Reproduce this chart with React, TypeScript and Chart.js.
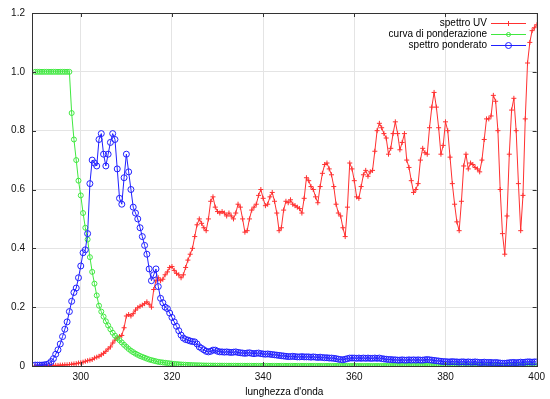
import React, { useEffect, useRef } from "react";
import { Chart, registerables } from "chart.js";

Chart.register(...registerables);

// ---- data ----
const WAVELENGTH_START = 290;
const WAVELENGTH_STEP = 0.5;

const SPETTRO_UV = [
  0, 0, 0, 0, 0.001, 0.001, 0.001, 0.001, 0.002, 0.002,
  0.002, 0.003, 0.003, 0.004, 0.004, 0.005, 0.006, 0.007, 0.008, 0.01,
  0.011, 0.013, 0.016, 0.018, 0.02, 0.022, 0.027, 0.03, 0.033, 0.038,
  0.043, 0.05, 0.058, 0.065, 0.078, 0.088, 0.095, 0.1, 0.104, 0.13,
  0.17, 0.175, 0.17, 0.178, 0.19, 0.198, 0.203, 0.207, 0.212, 0.218,
  0.21, 0.2, 0.26, 0.29, 0.3, 0.29, 0.295, 0.31, 0.32, 0.335,
  0.338, 0.325, 0.315, 0.31, 0.3, 0.31, 0.335, 0.36, 0.38, 0.4,
  0.44, 0.48, 0.5, 0.485, 0.47, 0.46, 0.5, 0.56, 0.575, 0.54,
  0.525, 0.52, 0.525, 0.52, 0.51, 0.52, 0.51, 0.5, 0.52, 0.55,
  0.54, 0.5, 0.455, 0.46, 0.5, 0.53, 0.54, 0.55, 0.58, 0.6,
  0.57, 0.545, 0.55, 0.575, 0.59, 0.56, 0.52, 0.46, 0.47, 0.53,
  0.56, 0.555, 0.565, 0.55, 0.545, 0.54, 0.535, 0.52, 0.57, 0.64,
  0.63, 0.61, 0.6, 0.575, 0.555, 0.61, 0.655, 0.685, 0.69, 0.67,
  0.65, 0.61, 0.55, 0.52, 0.51, 0.47, 0.44, 0.54, 0.69, 0.67,
  0.63, 0.575, 0.57, 0.61, 0.65, 0.665, 0.645, 0.66, 0.665, 0.73,
  0.8, 0.825, 0.81, 0.79, 0.775, 0.72, 0.74, 0.79, 0.83, 0.79,
  0.735, 0.76, 0.79, 0.7, 0.675, 0.63, 0.59, 0.6, 0.62, 0.7,
  0.74, 0.725, 0.72, 0.81, 0.88, 0.93, 0.88, 0.81, 0.72, 0.75,
  0.83, 0.8, 0.71, 0.62, 0.55, 0.49, 0.46, 0.56, 0.68, 0.72,
  0.67, 0.69, 0.685, 0.675, 0.67, 0.66, 0.7, 0.77, 0.84, 0.84,
  0.85, 0.92, 0.9, 0.8, 0.6, 0.45, 0.38, 0.51, 0.72, 0.87,
  0.91, 0.8, 0.62, 0.46, 0.58, 0.84, 1.03, 1.1, 1.14, 1.15,
  1.16,
];

const CURVA_PONDERAZIONE = [
  1, 1, 1, 1, 1, 1, 1, 1, 1, 1,
  1, 1, 1, 1, 1, 1, 0.86, 0.77, 0.7, 0.63,
  0.58, 0.52, 0.47, 0.43, 0.37, 0.32, 0.28, 0.24, 0.205, 0.185,
  0.168, 0.152, 0.138, 0.125, 0.113, 0.103, 0.095, 0.088, 0.08, 0.072,
  0.065, 0.058, 0.052, 0.047, 0.042, 0.038, 0.034, 0.031, 0.028, 0.025,
  0.022, 0.02, 0.018, 0.016, 0.014, 0.013, 0.012, 0.011, 0.01, 0.009,
  0.008, 0.0072, 0.0065, 0.0058, 0.0052, 0.0047, 0.0042, 0.0038, 0.0034, 0.0031,
  0.0028, 0.0025, 0.0023, 0.002, 0.0018, 0.0016, 0.0015, 0.0014, 0.0013, 0.0013,
  0.0012, 0.0012, 0.0011, 0.0011, 0.001, 0.001, 0.001, 0.0009, 0.0009, 0.0009,
  0.0008, 0.0008, 0.0008, 0.0008, 0.0007, 0.0007, 0.0007, 0.0007, 0.0006, 0.0006,
  0.0006, 0.0006, 0.0006, 0.0005, 0.0005, 0.0005, 0.0005, 0.0005, 0.0005, 0.0004,
  0.0004, 0.0004, 0.0004, 0.0004, 0.0004, 0.0004, 0.0003, 0.0003, 0.0003, 0.0003,
  0.0003, 0.0003, 0.0003, 0.0003, 0.0003, 0.0002, 0.0002, 0.0002, 0.0002, 0.0002,
  0.0002, 0.0002, 0.0002, 0.0002, 0.0002, 0.0002, 0.0002, 0.0002, 0.0001, 0.0001,
  0.0001, 0.0001, 0.0001, 0.0001, 0.0001, 0.0001, 0.0001, 0.0001, 0.0001, 0.0001,
  0.0001, 0.0001, 0.0001, 0.0001, 0.0001, 0.0001, 0.0001, 0.0001, 0.0001, 0.0001,
  0.0001, 0.0001, 0.0001, 0.0001, 0.0001, 0.0001, 0.0001, 0.0001, 0.0001, 0.0001,
  0.0001, 0.0001, 0.0001, 0.0001, 0.0001, 0.0001, 0.0001, 0.0001, 0.0001, 0.0001,
  0.0001, 0.0001, 0.0001, 0.0001, 0.0001, 0.0001, 0.0001, 0.0001, 0.0001, 0.0001,
  0.0001, 0.0001, 0.0001, 0.0001, 0.0001, 0.0001, 0.0001, 0.0001, 0.0001, 0.0001,
  0.0001, 0.0001, 0.0001, 0.0001, 0.0001, 0.0001, 0.0001, 0.0001, 0.0001, 0.0001,
  0.0001, 0.0001, 0.0001, 0.0001, 0.0001, 0.0001, 0.0001, 0.0001, 0.0001, 0.0001,
  0.0001,
];

const SPETTRO_PONDERATO = [
  0.003, 0.003, 0.003, 0.003, 0.004, 0.005, 0.008, 0.015, 0.025, 0.04,
  0.055, 0.075, 0.1, 0.125, 0.15, 0.185, 0.22, 0.25, 0.265, 0.3,
  0.34, 0.385, 0.395, 0.45, 0.62, 0.7, 0.69, 0.68, 0.77, 0.79,
  0.72, 0.68, 0.72, 0.76, 0.79, 0.77, 0.67, 0.57, 0.55, 0.64,
  0.72, 0.66, 0.6, 0.54, 0.52, 0.5, 0.47, 0.44, 0.41, 0.38,
  0.33, 0.29, 0.31, 0.33, 0.27, 0.23, 0.215, 0.2, 0.195, 0.18,
  0.165, 0.15, 0.135, 0.12, 0.105, 0.095, 0.09, 0.088, 0.085, 0.083,
  0.082, 0.075, 0.065, 0.06, 0.055, 0.05, 0.048, 0.05, 0.054, 0.054,
  0.05, 0.048, 0.048, 0.047, 0.048, 0.047, 0.046, 0.047, 0.048, 0.046,
  0.045, 0.044, 0.043, 0.044, 0.045, 0.043, 0.042, 0.043, 0.044, 0.042,
  0.041, 0.04, 0.041, 0.04, 0.039, 0.038, 0.037, 0.036, 0.035, 0.034,
  0.033, 0.032, 0.032, 0.033, 0.032, 0.031, 0.031, 0.032, 0.031, 0.031,
  0.031, 0.03, 0.031, 0.03, 0.029, 0.03, 0.029, 0.028, 0.028, 0.027,
  0.027, 0.026, 0.025, 0.023, 0.022, 0.021, 0.023, 0.025, 0.027, 0.027,
  0.027, 0.026, 0.027, 0.026, 0.027, 0.026, 0.027, 0.026, 0.026, 0.027,
  0.026, 0.027, 0.025, 0.024, 0.023, 0.022, 0.022, 0.021, 0.021, 0.02,
  0.02, 0.021, 0.02, 0.02, 0.021, 0.02, 0.021, 0.02, 0.021, 0.02,
  0.02, 0.021, 0.022, 0.021, 0.02, 0.019, 0.018, 0.017, 0.016, 0.015,
  0.015, 0.014, 0.014, 0.015, 0.014, 0.014, 0.013, 0.014, 0.014, 0.013,
  0.014, 0.013, 0.013, 0.014, 0.013, 0.012, 0.012, 0.013, 0.012, 0.012,
  0.012, 0.011, 0.012, 0.011, 0.01, 0.009, 0.009, 0.01, 0.011, 0.012,
  0.012, 0.011, 0.012, 0.013, 0.012, 0.013, 0.014, 0.014, 0.013, 0.014,
  0.014,
];

const WAVELENGTHS = SPETTRO_UV.map((_, i) => WAVELENGTH_START + i * WAVELENGTH_STEP);

const X_MIN = 289.3;
const X_MAX = 400;
const Y_MIN = 0;
const Y_MAX = 1.2;
const X_TICKS = [300, 320, 340, 360, 380, 400];
const Y_TICKS = [0, 0.2, 0.4, 0.6, 0.8, 1, 1.2];

const SERIES_LABELS = ["spettro UV", "curva di ponderazione", "spettro ponderato"];
const X_TITLE = "lunghezza d'onda";

const COLORS = ["#ff3030", "#40e840", "#2020ff"];
const FONT = "10px 'Liberation Sans', Arial, sans-serif";

function drawMarker(ctx: CanvasRenderingContext2D, kind: string, x: number, y: number, color: string) {
  ctx.save();
  ctx.strokeStyle = color;
  ctx.lineWidth = 1;
  ctx.beginPath();
  if (kind === "cross") {
    ctx.moveTo(x - 2.5, y);
    ctx.lineTo(x + 2.5, y);
    ctx.moveTo(x, y - 2.5);
    ctx.lineTo(x, y + 2.5);
  } else {
    const r = kind === "big" ? 3 : 2;
    ctx.arc(x, y, r, 0, Math.PI * 2);
  }
  ctx.stroke();
  ctx.restore();
}

const framePlugin = {
  id: "gnuFrame",
  afterDatasetsDraw(chart: any) {
    const ctx: CanvasRenderingContext2D = chart.ctx;
    const { left, right, top, bottom } = chart.chartArea;
    const xs = chart.scales.x;
    const ys = chart.scales.y;
    ctx.save();
    ctx.strokeStyle = "#333";
    ctx.lineWidth = 1;
    ctx.strokeRect(Math.round(left) + 0.5, Math.round(top) + 0.5, Math.round(right - left), Math.round(bottom - top));
    ctx.beginPath();
    X_TICKS.forEach((v) => {
      const px = Math.round(xs.getPixelForValue(v)) + 0.5;
      ctx.moveTo(px, bottom);
      ctx.lineTo(px, bottom - 4);
      ctx.moveTo(px, top);
      ctx.lineTo(px, top + 4);
    });
    Y_TICKS.forEach((v) => {
      const py = Math.round(ys.getPixelForValue(v)) + 0.5;
      ctx.moveTo(left, py);
      ctx.lineTo(left + 4, py);
      ctx.moveTo(right, py);
      ctx.lineTo(right - 4, py);
    });
    ctx.stroke();

    ctx.font = FONT;
    ctx.fillStyle = "#000";
    ctx.textAlign = "right";
    ctx.textBaseline = "middle";
    const kinds = ["cross", "small", "big"];
    SERIES_LABELS.forEach((label, i) => {
      const y = 23.5 + i * 11;
      ctx.fillText(label, 487, y);
      ctx.strokeStyle = COLORS[i];
      ctx.lineWidth = 1;
      ctx.beginPath();
      ctx.moveTo(491, y);
      ctx.lineTo(526, y);
      ctx.stroke();
      drawMarker(ctx, kinds[i], 508.5, y, COLORS[i]);
    });

    ctx.textAlign = "center";
    ctx.fillText(X_TITLE, (left + right) / 2, 392);
    ctx.restore();
  },
};

export default function App() {
  const canvasRef = useRef<HTMLCanvasElement | null>(null);

  useEffect(() => {
    const canvas = canvasRef.current;
    if (!canvas) return;
    const mk = (ys: number[]) => WAVELENGTHS.map((x, i) => ({ x, y: ys[i] }));
    const chart = new Chart(canvas, {
      type: "line",
      data: {
        datasets: [
          {
            label: SERIES_LABELS[0],
            data: mk(SPETTRO_UV),
            borderColor: COLORS[0],
            backgroundColor: COLORS[0],
            borderWidth: 1,
            pointStyle: "cross",
            pointRadius: 2.5,
            pointBorderWidth: 1,
            pointBorderColor: COLORS[0],
            order: 3,
          },
          {
            label: SERIES_LABELS[1],
            data: mk(CURVA_PONDERAZIONE),
            borderColor: COLORS[1],
            backgroundColor: "transparent",
            borderWidth: 1,
            pointStyle: "circle",
            pointRadius: 2.5,
            pointBorderWidth: 1,
            pointBorderColor: COLORS[1],
            pointBackgroundColor: "transparent",
            order: 2,
          },
          {
            label: SERIES_LABELS[2],
            data: mk(SPETTRO_PONDERATO),
            borderColor: COLORS[2],
            backgroundColor: "transparent",
            borderWidth: 1,
            pointStyle: "circle",
            pointRadius: 3,
            pointBorderWidth: 1,
            pointBorderColor: COLORS[2],
            pointBackgroundColor: "transparent",
            order: 1,
          },
        ],
      },
      options: {
        animation: false,
        responsive: false,
        maintainAspectRatio: false,
        devicePixelRatio: 1,
        layout: { padding: { top: 13, right: 10, left: 0, bottom: 0 } },
        plugins: {
          legend: { display: false },
          tooltip: { enabled: false },
          title: { display: false },
        },
        scales: {
          x: {
            type: "linear",
            min: X_MIN,
            max: X_MAX,
            afterBuildTicks: (scale: any) => {
              scale.ticks = X_TICKS.map((value) => ({ value }));
            },
            afterFit: (scale: any) => {
              scale.height = 33;
            },
            ticks: {
              font: { family: "'Liberation Sans', Arial, sans-serif", size: 10 },
              color: "#111",
              padding: 5,
              maxRotation: 0,
              autoSkip: false,
            },
            grid: { color: "#e4e4e4", drawTicks: false, lineWidth: 1 },
            border: { display: false },
          },
          y: {
            type: "linear",
            min: Y_MIN,
            max: Y_MAX,
            afterBuildTicks: (scale: any) => {
              scale.ticks = Y_TICKS.map((value) => ({ value }));
            },
            afterFit: (scale: any) => {
              scale.width = 32;
            },
            ticks: {
              font: { family: "'Liberation Sans', Arial, sans-serif", size: 10 },
              color: "#111",
              padding: 7,
              autoSkip: false,
            },
            grid: { color: "#e4e4e4", drawTicks: false, lineWidth: 1 },
            border: { display: false },
          },
        },
      },
      plugins: [framePlugin],
    });
    return () => chart.destroy();
  }, []);

  return (
    <div style={{ position: "absolute", left: 0, top: 0, width: 550, height: 399, background: "#fff" }}>
      <canvas ref={canvasRef} width={550} height={399} style={{ display: "block" }} />
    </div>
  );
}
